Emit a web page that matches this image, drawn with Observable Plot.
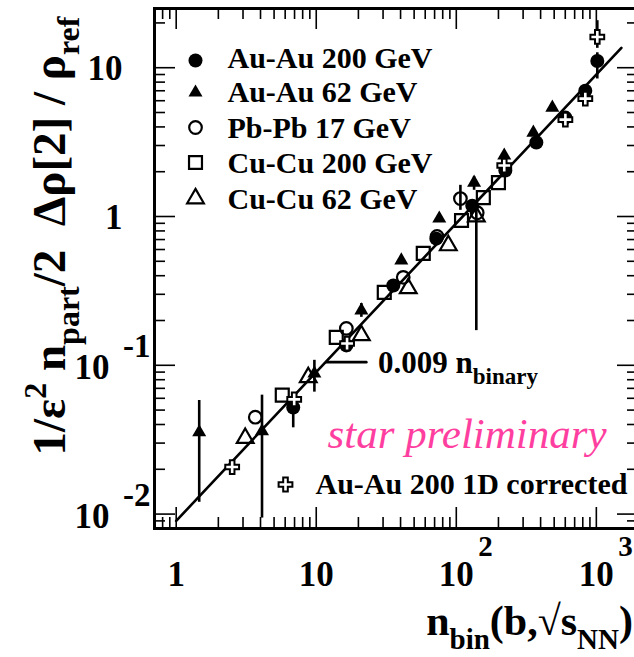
<!DOCTYPE html>
<html><head><meta charset="utf-8">
<script src="https://cdn.jsdelivr.net/npm/d3@7"></script>
<script src="https://cdn.jsdelivr.net/npm/@observablehq/plot@0.6"></script>
<style>html,body{margin:0;padding:0;background:#fff;overflow:hidden} svg{overflow:visible;display:block}</style>
</head><body><div id="chart"></div>
<script>
// ---------- data ----------
const auau200X = [6.85, 16.4, 35.5, 72, 130, 224, 373, 601, 834, 1016];
const auau200Y = [0.052, 0.136, 0.344, 0.71, 1.18, 2.04, 3.14, 4.62, 7.0, 11.1];
const auau62X = [1.46, 4.1, 9.7, 21, 40.5, 75.6, 134, 220, 355, 485];
const auau62Y = [0.0355, 0.036, 0.088, 0.234, 0.507, 0.97, 1.69, 2.57, 3.66, 5.39];
const pbpb17X = [3.67, 16.4, 41.8, 72.9, 107, 141];
const pbpb17Y = [0.0448, 0.177, 0.39, 0.734, 1.32, 1.06];
const cucu200X = [5.72, 13.9, 30.6, 58.1, 109, 156, 200];
const cucu200Y = [0.063, 0.154, 0.309, 0.565, 0.94, 1.34, 1.69];
const cucu62X = [3.11, 8.77, 21, 45.4, 87.7, 139];
const cucu62Y = [0.0324, 0.083, 0.159, 0.329, 0.639, 1.0];
const corr1DX = [2.51, 6.96, 16.6, 220, 601, 834, 1016];
const corr1DY = [0.0207, 0.059, 0.14, 2.2, 4.48, 6.2, 16.1];
// error bars: x, low, high
const errX = [1.46, 4.1, 9.7, 21, 6.85, 107, 134, 139, 1016, 1016];
const errLo = [0.012, 0.0094, 0.066, 0.21, 0.038, 1.1, 1.5, 0.171, 8.4, 13.5];
const errHi = [0.058, 0.063, 0.108, 0.26, 0.065, 1.62, 1.85, 1.19, 12.6, 20.7];
// reference line 0.009 n_binary
const fitX = [1, 1510];
const fitCoef = 0.009;
// leader line of the annotation
const leaderX = [11.8, 22.8];
const leaderY = 0.105;
// axes
const xDomain = [0.7, 2000];
const yDomain = [0.008, 25];
const xMajor = [1, 10, 100, 1000];
const xMajorBase = ["1", "10", "10", "10"];
const xMajorExp = ["", "", "2", "3"];
const xMinor = [0.8, 0.9, 2,3,4,5,6,7,8,9, 20,30,40,50,60,70,80,90, 200,300,400,500,600,700,800,900];
const yMajor = [0.01, 0.1, 1, 10];
const yMajorBase = ["10", "10", "1", "10"];
const yMajorExp = ["-2", "-1", "", ""];
const yMinor = [0.009, 0.02,0.03,0.04,0.05,0.06,0.07,0.08,0.09, 0.2,0.3,0.4,0.5,0.6,0.7,0.8,0.9, 2,3,4,5,6,7,8,9, 20];
const legendLabels = ["Au-Au 200 GeV", "Au-Au 62 GeV", "Pb-Pb 17 GeV", "Cu-Cu 200 GeV", "Cu-Cu 62 GeV"];
const extraLegendLabel = "Au-Au 200 1D corrected";
const annotationText = "0.009 n";
const annotationSub = "binary";
const prelimText = "star preliminary";

// ---------- layout ----------
const W = 634, H = 657, ML = 154, MR = -4, MT = 8, MB = 129;
const PW = W - ML - MR, PH = H - MT - MB;
const SERIF = "'Liberation Serif', 'DejaVu Serif', serif";
const pts = (xs, ys) => xs.map((x, i) => ({x, y: ys[i]}));
const errData = errX.map((x, i) => ({x, lo: errLo[i], hi: errHi[i]}));
const fitData = fitX.map(x => ({x, y: fitCoef * x}));
const yBaseNoExp = yMajor.map((v, i) => ({v, t: yMajorBase[i], e: yMajorExp[i]})).filter(d => !d.e);
const yBaseExp = yMajor.map((v, i) => ({v, t: yMajorBase[i], e: yMajorExp[i]})).filter(d => d.e);
const xLab = xMajor.map((v, i) => ({v, t: xMajorBase[i], e: xMajorExp[i]}));

const MAJ = 21, MIN = 11, TW = 1.6;
const sym = {
  auau200: {symbol: "circle", r: 7, fill: "black", stroke: "none"},
  auau62: {symbol: "triangle", r: 5.2, fill: "black", stroke: "none"},
  pbpb17: {symbol: "circle", r: 6.3, fill: "none", stroke: "black", strokeWidth: 2.2},
  cucu200: {symbol: "square", r: 7.3, fill: "none", stroke: "black", strokeWidth: 2.2},
  cucu62: {symbol: "triangle", r: 6.2, fill: "none", stroke: "black", strokeWidth: 2.2},
  corr: {symbol: "cross", r: 5.8, fill: "white", stroke: "black", strokeWidth: 2}
};
const legendSyms = [sym.auau200, sym.auau62, sym.pbpb17, sym.cucu200, sym.cucu62];
const legendMarkerY = [60, 92, 127, 162, 198];
const legendBaseY = [67, 101, 137, 172, 208];
const bold = {fontWeight: "bold", fontFamily: SERIF, fill: "black"};

const marks = [
  // ticks (inside, all four sides)
  Plot.tickX(xMajor, {x: d => d, insetTop: PH - MAJ, stroke: "black", strokeWidth: TW}),
  Plot.tickX(xMinor, {x: d => d, insetTop: PH - MIN, stroke: "black", strokeWidth: TW}),
  Plot.tickX(xMajor, {x: d => d, insetBottom: PH - MAJ, stroke: "black", strokeWidth: TW}),
  Plot.tickX(xMinor, {x: d => d, insetBottom: PH - MIN, stroke: "black", strokeWidth: TW}),
  Plot.tickY(yMajor, {y: d => d, insetRight: PW - MAJ, stroke: "black", strokeWidth: TW}),
  Plot.tickY(yMinor, {y: d => d, insetRight: PW - MIN, stroke: "black", strokeWidth: TW}),
  Plot.tickY(yMajor, {y: d => d, insetLeft: PW - MAJ, stroke: "black", strokeWidth: TW}),
  Plot.tickY(yMinor, {y: d => d, insetLeft: PW - MIN, stroke: "black", strokeWidth: TW}),
  Plot.frame({stroke: "black", strokeWidth: 3}),
  // tick labels
  Plot.text(xLab, {x: "v", text: "t", frameAnchor: "bottom", dy: 57, lineAnchor: "bottom", textAnchor: "middle", fontSize: 35, ...bold}),
  Plot.text(xLab, {x: "v", text: "e", frameAnchor: "bottom", dy: 27, dx: 22, lineAnchor: "bottom", textAnchor: "start", fontSize: 29, ...bold}),
  Plot.text(yBaseNoExp, {y: "v", text: "t", frameAnchor: "left", dx: -32, dy: 12, lineAnchor: "bottom", textAnchor: "end", fontSize: 35, ...bold}),
  Plot.text(yBaseExp, {y: "v", text: "t", frameAnchor: "left", dx: -45, dy: 14, lineAnchor: "bottom", textAnchor: "end", fontSize: 35, ...bold}),
  Plot.text(yBaseExp, {y: "v", text: "e", frameAnchor: "left", dx: -4, dy: -8, lineAnchor: "bottom", textAnchor: "end", fontSize: 33, ...bold}),
  // reference line
  Plot.line(fitData, {x: "x", y: "y", stroke: "black", strokeWidth: 2.6}),
  // annotation leader
  Plot.line(leaderX.map(x => ({x, y: leaderY})), {x: "x", y: "y", stroke: "black", strokeWidth: 2.6}),
  // error bars
  Plot.ruleX(errData, {x: "x", y1: "lo", y2: "hi", stroke: "black", strokeWidth: 2.6}),
  // data
  Plot.dot(pts(cucu200X, cucu200Y), {x: "x", y: "y", ...sym.cucu200}),
  Plot.dot(pts(cucu62X, cucu62Y), {x: "x", y: "y", ...sym.cucu62}),
  Plot.dot(pts(pbpb17X, pbpb17Y), {x: "x", y: "y", ...sym.pbpb17}),
  Plot.dot(pts(auau62X, auau62Y), {x: "x", y: "y", ...sym.auau62}),
  Plot.dot(pts(auau200X, auau200Y), {x: "x", y: "y", ...sym.auau200}),
  Plot.dot(pts(corr1DX, corr1DY), {x: "x", y: "y", ...sym.corr}),
  // legend markers
  ...legendSyms.map((s, i) => Plot.dot([0], {frameAnchor: "top-left", dx: 195 - ML, dy: legendMarkerY[i] - MT, ...s})),
  Plot.dot([0], {frameAnchor: "top-left", dx: 285 - ML, dy: 484 - MT, ...sym.corr}),
  // legend labels
  ...legendLabels.map((t, i) => Plot.text([t], {frameAnchor: "top-left", dx: 227 - ML, dy: legendBaseY[i] - MT, lineAnchor: "bottom", textAnchor: "start", fontSize: 30, ...bold})),
  Plot.text([extraLegendLabel], {frameAnchor: "top-left", dx: 315 - ML, dy: 493 - MT, lineAnchor: "bottom", textAnchor: "start", fontSize: 30, ...bold}),
  Plot.text([prelimText], {frameAnchor: "top-left", dx: 327 - ML, dy: 447 - MT, lineAnchor: "bottom", textAnchor: "start", fontSize: 43, fontStyle: "italic", fontFamily: SERIF, fill: "#ff3fa0"})
];

const chart = Plot.plot({
  width: W, height: H,
  marginLeft: ML, marginRight: MR, marginTop: MT, marginBottom: MB,
  x: {type: "log", domain: xDomain, axis: null},
  y: {type: "log", domain: yDomain, axis: null},
  style: {background: "white", overflow: "visible"},
  marks
});
document.getElementById("chart").appendChild(chart);

// ---------- rich texts (super/subscripts) ----------
const svg = d3.select(chart);
function rich(parts, attrs) {
  const t = svg.append("text").attr("font-family", SERIF).attr("font-weight", "bold").attr("fill", "black").attr("text-anchor", "start");
  for (const [k, v] of Object.entries(attrs)) t.attr(k, v);
  let shift = 0;
  for (const p of parts) {
    const s = t.append("tspan").text(p.t);
    const target = p.dy || 0;
    if (target - shift !== 0) s.attr("dy", target - shift);
    shift = target;
    if (p.size) s.attr("font-size", p.size);
  }
  return t;
}
// annotation 0.009 n_binary
rich([{t: annotationText}, {t: annotationSub, size: 23, dy: 11}], {x: 378, y: 373, "font-size": 31});
// x title
rich([{t: "n"}, {t: "bin", size: 29, dy: 14}, {t: "(b,\u221As", dy: 0}, {t: "NN", size: 29, dy: 14}, {t: ")", dy: 0}],
  {x: 633, y: 635, "font-size": 42, "text-anchor": "end"});
// y title
rich([{t: "1/\u03B5"}, {t: "2", size: 32, dy: -19}, {t: " n", dy: 0}, {t: "part", size: 32, dy: 14}, {t: "/2  \u0394\u03C1[2] / \u03C1", dy: 0}, {t: "ref", size: 32, dy: 14}],
  {transform: "translate(65,236) rotate(-90)", "font-size": 47, "text-anchor": "middle"});
</script>
</body></html>
